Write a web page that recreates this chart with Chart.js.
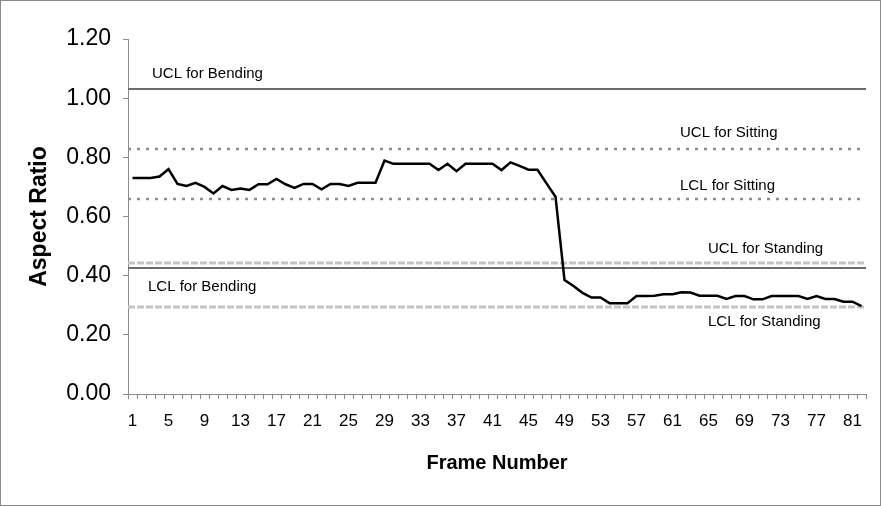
<!DOCTYPE html>
<html>
<head>
<meta charset="utf-8">
<script src="https://cdn.jsdelivr.net/npm/chart.js@4/dist/chart.umd.min.js"></script>
<style>
  html, body { margin: 0; padding: 0; background: #fff; }
  #wrap { width: 881px; height: 506px; }
</style>
</head>
<body>
<div id="wrap"><canvas id="ratio-chart" width="881" height="506"></canvas></div>
<script>
// frame numbers 1..82
const frames = [];
for (let i = 1; i <= 82; i++) frames.push(i);

const aspectRatio = [
  0.73, 0.73, 0.73, 0.735, 0.76, 0.71, 0.703, 0.714, 0.70, 0.678,
  0.703, 0.69, 0.695, 0.69, 0.709, 0.709, 0.727, 0.709, 0.697, 0.71,
  0.71, 0.692, 0.71, 0.71, 0.703, 0.714, 0.714, 0.714, 0.789, 0.778,
  0.778, 0.778, 0.778, 0.778, 0.757, 0.778, 0.753, 0.778, 0.778, 0.778,
  0.778, 0.757, 0.783, 0.771, 0.758, 0.758, 0.712, 0.667, 0.385, 0.365,
  0.342, 0.326, 0.326, 0.307, 0.307, 0.307, 0.331, 0.331, 0.332, 0.337,
  0.337, 0.344, 0.343, 0.332, 0.332, 0.332, 0.321, 0.331, 0.331, 0.32,
  0.32, 0.331, 0.331, 0.331, 0.331, 0.321, 0.331, 0.321, 0.321, 0.312,
  0.312, 0.297
];

const limitNames = ['UCL for Bending', 'UCL for Sitting', 'LCL for Sitting', 'UCL for Standing', 'LCL for Bending', 'LCL for Standing'];
const limitValues = [1.031, 0.828, 0.659, 0.443, 0.426, 0.294];
const yTicks = [0, 0.2, 0.4, 0.6, 0.8, 1.0, 1.2];

// line style + label placement per limit (same order as limitNames)
const limitStyles = [
  { color: '#6b6b6b', width: 2, dash: [],    lx: 24,  dy: -15 },
  { color: '#8c8c8c', width: 2.5, dash: [3, 6], lx: 552, dy: -16 },
  { color: '#8c8c8c', width: 2.5, dash: [3, 6], lx: 552, dy: -13 },
  { color: '#c4c4c4', width: 3, dash: [7, 2], lx: 580, dy: -14 },
  { color: '#6b6b6b', width: 2, dash: [],    lx: 20,  dy: 19 },
  { color: '#c4c4c4', width: 3, dash: [7, 2], lx: 580, dy: 15 }
];

const controlLines = {
  id: 'controlLines',
  beforeDatasetsDraw(chart) {
    const { ctx, chartArea, scales } = chart;
    ctx.save();
    limitValues.forEach((v, i) => {
      const s = limitStyles[i];
      const y = scales.y.getPixelForValue(v);
      ctx.strokeStyle = s.color;
      ctx.lineWidth = s.width;
      ctx.setLineDash(s.dash);
      ctx.beginPath();
      ctx.moveTo(chartArea.left, y);
      ctx.lineTo(chartArea.right, y);
      ctx.stroke();
      ctx.setLineDash([]);
      ctx.fillStyle = '#000';
      ctx.font = '15px "Liberation Sans", Arial, sans-serif';
      ctx.textBaseline = 'middle';
      ctx.fillText(limitNames[i], chartArea.left + s.lx, y + s.dy);
    });
    ctx.restore();
  },
  afterDraw(chart) {
    const ctx = chart.ctx;
    ctx.save();
    ctx.strokeStyle = '#8a8a8a';
    ctx.lineWidth = 1;
    ctx.strokeRect(0.5, 0.5, chart.width - 1, chart.height - 1);
    ctx.restore();
  }
};

new Chart(document.getElementById('ratio-chart').getContext('2d'), {
  type: 'line',
  data: {
    labels: frames,
    datasets: [{
      data: aspectRatio,
      borderColor: '#000',
      borderWidth: 2.5,
      pointRadius: 0,
      tension: 0,
      fill: false
    }]
  },
  options: {
    responsive: false,
    animation: false,
    layout: { padding: { top: 39, right: 15, left: 0, bottom: 0 } },
    plugins: { legend: { display: false }, tooltip: { enabled: false } },
    scales: {
      x: {
        type: 'category',
        offset: true,
        afterFit(scale) { scale.height = 112; },
        grid: { offset: true, drawOnChartArea: false, color: '#8a8a8a', tickLength: 5 },
        border: { color: '#8a8a8a' },
        ticks: {
          autoSkip: false,
          maxRotation: 0,
          padding: 12,
          color: '#000',
          font: { family: '"Liberation Sans", Arial', size: 17 },
          callback(val, idx) { return idx % 4 === 0 ? frames[idx] : ''; }
        },
        title: {
          display: true,
          text: 'Frame Number',
          color: '#000',
          padding: { top: 0, bottom: 31 },
          font: { family: '"Liberation Sans", Arial', size: 20, weight: 'bold' }
        }
      },
      y: {
        min: 0,
        max: 1.2,
        afterFit(scale) { scale.width = 128; },
        afterBuildTicks(scale) { scale.ticks = yTicks.map(v => ({ value: v })); },
        grid: { drawOnChartArea: false, color: '#8a8a8a', tickLength: 5 },
        border: { color: '#8a8a8a' },
        ticks: {
          padding: 12,
          color: '#000',
          font: { family: '"Liberation Sans", Arial', size: 23 },
          callback(v) { return Number(v).toFixed(2); }
        },
        title: {
          display: true,
          text: 'Aspect Ratio',
          color: '#000',
          padding: { top: 26, bottom: 0 },
          font: { family: '"Liberation Sans", Arial', size: 23, weight: 'bold' }
        }
      }
    }
  },
  plugins: [controlLines]
});
</script>
</body>
</html>
